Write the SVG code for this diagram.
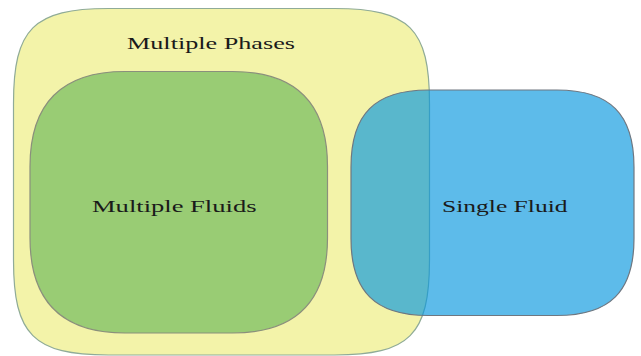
<svg xmlns="http://www.w3.org/2000/svg" width="641" height="356" viewBox="0 0 641 356">
  <style>
    .set { stroke-width: 1.2; }
    .label { font-family: "Liberation Serif", "Times New Roman", serif; font-size: 17.5px; fill: #1a1a1a; }
  </style>
  <rect width="641" height="356" fill="#ffffff"/>

  <!-- outer set: multiple phases -->
  <g id="multiple-phases">
    <path class="set" fill="#f3f3a9" stroke="#8fab98"
          d="M108.5,8.5 H334.5 C409.5,8.5 429.5,28.5 429.5,103.5 V260 C429.5,335 409.5,355 334.5,355 H108.5 C33.5,355 13.5,335 13.5,260 V103.5 C13.5,28.5 33.5,8.5 108.5,8.5 Z"/>
    <text class="label" x="127" y="49" textLength="168" lengthAdjust="spacingAndGlyphs">Multiple Phases</text>
  </g>

  <!-- nested set: multiple fluids -->
  <g id="multiple-fluids">
    <path class="set" fill="#99cc74" stroke="#8a8f7c"
          d="M125,71.5 H232.5 C295.5,71.5 327.5,103.5 327.5,166.5 V238 C327.5,301 295.5,333 232.5,333 H125 C62,333 30,301 30,238 V166.5 C30,103.5 62,71.5 125,71.5 Z"/>
    <text class="label" x="92" y="212" textLength="164.5" lengthAdjust="spacingAndGlyphs">Multiple Fluids</text>
  </g>

  <!-- translucent set: single fluid, overlapping the outer set -->
  <g id="single-fluid">
    <path class="set" fill="#0696df" fill-opacity="0.65" stroke="#6f7780"
          d="M428,90 H557 C610,90 634,114 634,167 V238.5 C634,291.5 610,315.5 557,315.5 H428 C375,315.5 351,291.5 351,238.5 V167 C351,114 375,90 428,90 Z"/>
    <text class="label" x="442" y="212" textLength="125.5" lengthAdjust="spacingAndGlyphs">Single Fluid</text>
  </g>
</svg>
